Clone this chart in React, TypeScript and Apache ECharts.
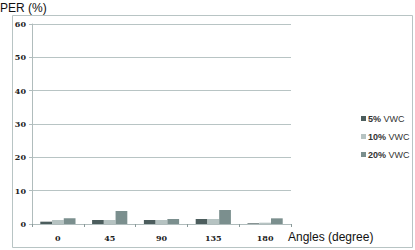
import React, { useEffect, useRef } from "react";
import * as echarts from "echarts";

const categories = ["0", "45", "90", "135", "180"];
const seriesNames = ["5%", "10%", "20%"];
const vwc5 = [0.7, 1.2, 1.2, 1.5, 0.2];
const vwc10 = [1.2, 1.2, 1.2, 1.5, 0.4];
const vwc20 = [1.7, 3.9, 1.5, 4.2, 1.7];
const colors = ["#4c5d5d", "#b6c3c2", "#7b8f8e"];
const yMax = 60;
const yInterval = 10;

export default function App() {
  const ref = useRef<HTMLDivElement>(null);
  useEffect(() => {
    document.body.style.margin = "0";
    const chart = echarts.init(ref.current!, null, { renderer: "svg" });
    const data = [vwc5, vwc10, vwc20];
    chart.setOption({
      animation: false,
      grid: { left: 32, right: 124, top: 24, bottom: 26, containLabel: false },
      xAxis: {
        type: "category",
        data: categories,
        axisLine: { lineStyle: { color: "#b0bcbc" } },
        axisTick: { show: true, length: 3, lineStyle: { color: "#8a9a9a" } },
        axisLabel: {
          fontFamily: "DejaVu Serif",
          fontWeight: "bold",
          fontSize: 8,
          color: "#222",
          margin: 10,
        },
        name: "Angles (degree)",
        nameLocation: "end",
        nameGap: -3,
        nameTextStyle: {
          fontFamily: "Liberation Sans",
          fontSize: 12,
          color: "#111",
          verticalAlign: "top",
          padding: [7, 0, 0, 0],
        },
      },
      yAxis: {
        type: "value",
        min: 0,
        max: yMax,
        interval: yInterval,
        axisLine: { show: true, lineStyle: { color: "#b0bcbc" } },
        axisTick: { show: true, length: 3, lineStyle: { color: "#b0bcbc" } },
        splitLine: { lineStyle: { color: "#b8c4c4" } },
        axisLabel: {
          fontFamily: "DejaVu Serif",
          fontWeight: "bold",
          fontSize: 8,
          color: "#222",
          margin: 6,
        },
      },
      legend: {
        orient: "vertical",
        left: 356,
        top: 109,
        itemWidth: 5,
        itemHeight: 5,
        itemGap: 9,
        icon: "rect",
        formatter: (n: string) => `{b|${n}} VWC`,
        textStyle: {
          fontFamily: "Liberation Sans",
          fontSize: 9,
          color: "#333",
          padding: [0, 0, 0, -3],
          rich: { b: { fontWeight: "bold", fontSize: 9, color: "#333", fontFamily: "Liberation Sans" } },
        },
      },
      graphic: [
        {
          type: "rect",
          shape: { x: 12.5, y: 15.5, width: 400, height: 232 },
          style: { fill: "none", stroke: "#b8c4c4", lineWidth: 1 },
          silent: true,
        },
        {
          type: "text",
          left: 0,
          top: 2,
          style: {
            text: "PER (%)",
            font: "12px Liberation Sans",
            fill: "#111",
          },
        },
      ],
      series: seriesNames.map((n, i) => ({
        name: n,
        type: "bar",
        data: data[i],
        barGap: "0%",
        barCategoryGap: "32%",
        itemStyle: { color: colors[i] },
      })),
    });
    return () => chart.dispose();
  }, []);
  return <div ref={ref} style={{ width: 415, height: 250 }} />;
}
